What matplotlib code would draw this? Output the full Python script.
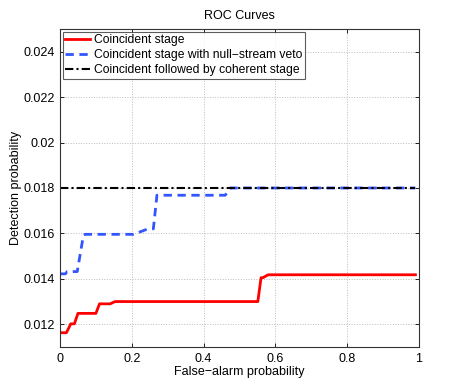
import matplotlib
matplotlib.use('Agg')
import matplotlib.pyplot as plt
from matplotlib.ticker import FuncFormatter

plt.rcParams['font.family'] = ['Liberation Sans', 'DejaVu Sans']

# --- ROC data ---
fa_coinc = [0.0, 0.018, 0.03, 0.04, 0.05, 0.10, 0.11, 0.14, 0.153, 0.551, 0.56, 0.565, 0.58, 0.99]
pd_coinc = [0.01163, 0.01163, 0.01202, 0.01202, 0.01248, 0.01248, 0.0129, 0.0129, 0.0130, 0.0130,
            0.01405, 0.01405, 0.01418, 0.01418]

fa_null = [0.0, 0.015, 0.02, 0.048, 0.065, 0.07, 0.205, 0.245, 0.26, 0.27, 0.46, 0.475, 0.99]
pd_null = [0.01422, 0.01422, 0.01432, 0.01432, 0.0159, 0.01596, 0.01596, 0.0162, 0.0162, 0.01768,
           0.01768, 0.0180, 0.0180]

fa_coh = [0.0, 0.99]
pd_coh = [0.0180, 0.0180]

labels = ['Coincident stage',
          'Coincident stage with null\u2212stream veto',
          'Coincident followed by coherent stage']

fig = plt.figure(figsize=(4.63, 3.91), dpi=100)
ax = fig.add_axes([0.1296, 0.1125, 0.7754, 0.8135])

ax.plot(fa_coinc, pd_coinc, color='#ff0000', lw=2.0, label=labels[0])
ax.plot(fa_null, pd_null, color='#3355ff', lw=2.0, ls=(0, (3, 2)), label=labels[1])
ax.plot(fa_coh, pd_coh, color='black', lw=1.5, ls=(0, (4, 1.5, 1, 1.5)), label=labels[2])

ax.set_xlim(0, 1)
ax.set_ylim(0.011, 0.025)
ax.set_xticks([0, 0.2, 0.4, 0.6, 0.8, 1])
ax.set_yticks([0.012, 0.014, 0.016, 0.018, 0.02, 0.022, 0.024])
ax.xaxis.set_major_formatter(FuncFormatter(lambda v, p: '%g' % v))
ax.yaxis.set_major_formatter(FuncFormatter(lambda v, p: '%g' % round(v, 4)))
ax.tick_params(direction='in', top=True, right=True, labelsize=9, length=3, width=0.6, pad=4)
ax.grid(True, ls=':', color='#bbbbbb', lw=0.7)
for s in ax.spines.values():
    s.set_linewidth(0.8)
    s.set_color('#333333')

ax.set_title('ROC Curves', fontsize=9, pad=7)
ax.set_xlabel('False\u2212alarm probability', fontsize=9, labelpad=1)
ax.set_ylabel('Detection probability', fontsize=9, labelpad=1)

leg = ax.legend(loc='upper left', fontsize=8.7, frameon=True, fancybox=False,
                edgecolor='#333333', borderpad=0.2, labelspacing=0.25,
                handlelength=2.0, handletextpad=0.4, borderaxespad=0.25)
leg.get_frame().set_linewidth(0.8)

fig.savefig('out.png', dpi=100)
